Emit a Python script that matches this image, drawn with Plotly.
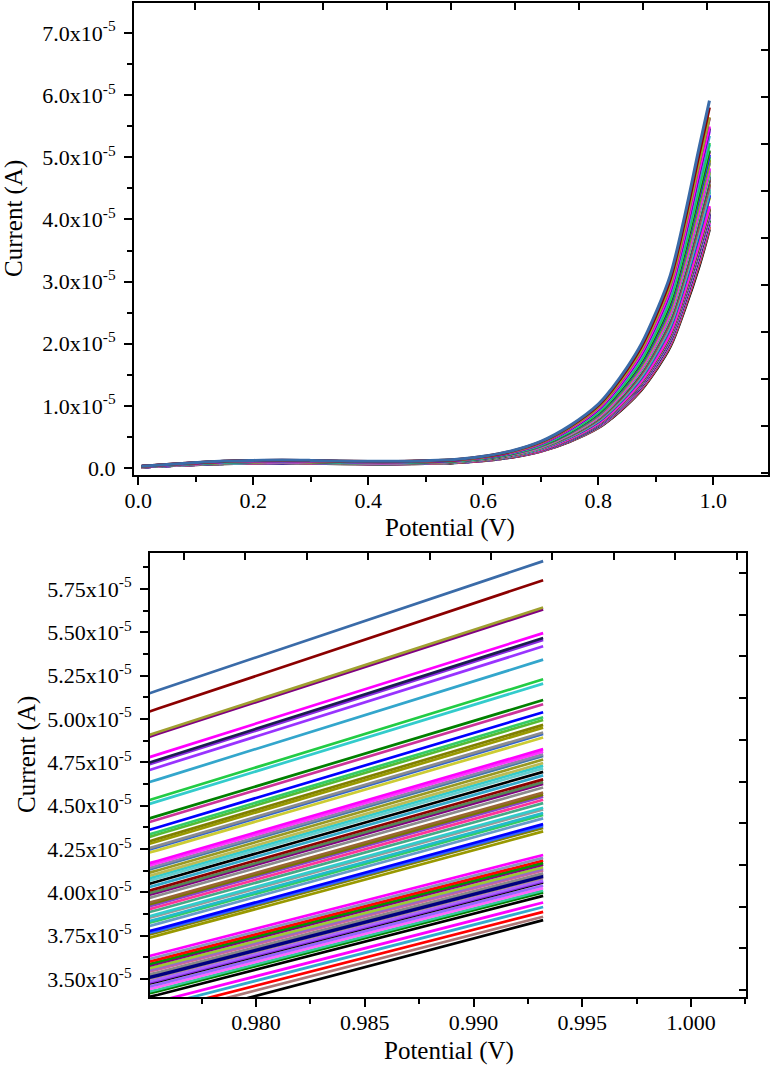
import plotly.graph_objects as go

# ---------------- data (currents in units of 1e-5 A) ----------------
# shape of the outermost (steel-blue) LSV curve
potential_base = [0.005, 0.05, 0.1, 0.15, 0.2, 0.25, 0.3, 0.35, 0.4, 0.45, 0.5, 0.55,
                  0.6, 0.65, 0.7, 0.75, 0.8, 0.825, 0.85, 0.875, 0.9, 0.925, 0.95, 0.9755]
current_base = [0.03, 0.06, 0.09, 0.115, 0.125, 0.13, 0.125, 0.115, 0.11, 0.11, 0.12, 0.14,
                0.19, 0.28, 0.43, 0.68, 1.03, 1.3, 1.62, 2.0, 2.5, 3.1, 4.05, 5.166]

end_potential = 0.9932

# current of every curve at 0.9755 V (left edge of the zoom) and at 0.9932 V (end)
start_current = [5.166, 5.060, 4.925, 4.915, 4.796, 4.765, 4.755, 4.722, 4.652, 4.549,
                 4.526, 4.440, 4.418, 4.376, 4.350, 4.335, 4.310, 4.295, 4.270, 4.262,
                 4.244, 4.183, 4.170, 4.155, 4.147, 4.128, 4.110, 4.096, 4.082, 4.064,
                 4.045, 4.025, 4.010, 4.000, 3.982, 3.955, 3.945, 3.934, 3.917, 3.900,
                 3.876, 3.867, 3.848, 3.838, 3.820, 3.790, 3.780, 3.770, 3.752,
                 3.646, 3.629, 3.614, 3.600, 3.590, 3.575, 3.565, 3.556, 3.540, 3.530,
                 3.520, 3.514, 3.500, 3.493, 3.487, 3.470, 3.455, 3.440, 3.430, 3.410,
                 3.372, 3.346, 3.318, 3.290, 3.255]
end_current = [5.910, 5.800, 5.643, 5.632, 5.495, 5.467, 5.456, 5.419, 5.342, 5.229,
               5.204, 5.109, 5.085, 5.039, 5.010, 4.994, 4.966, 4.950, 4.922, 4.913,
               4.893, 4.826, 4.812, 4.796, 4.787, 4.766, 4.746, 4.731, 4.715, 4.695,
               4.675, 4.652, 4.636, 4.625, 4.605, 4.576, 4.564, 4.552, 4.534, 4.515,
               4.488, 4.479, 4.458, 4.447, 4.427, 4.394, 4.383, 4.372, 4.352,
               4.216, 4.199, 4.184, 4.170, 4.160, 4.145, 4.135, 4.126, 4.110, 4.100,
               4.090, 4.084, 4.070, 4.063, 4.057, 4.040, 4.025, 4.010, 4.000, 3.980,
               3.942, 3.916, 3.888, 3.860, 3.840]
colors = ['#3A6BA8', '#8B0000', '#A0A030', '#800080', '#FF00FF', '#1C1C50', '#8A2BE2', '#9933FF',
          '#33A6CC', '#22CC44', '#33CCCC', '#008000', '#CC3399', '#0000FF', '#33CC66', '#55BB33',
          '#808000', '#999900', '#8C8C8C', '#3366CC', '#CCCC33', '#FF00FF', '#FF33FF', '#8888AA',
          '#4477AA', '#999922', '#BBBB55', '#33CCCC', '#66CCCC', '#000000', '#33AACC', '#8B0000',
          '#558855', '#800080', '#8C8C8C', '#996633', '#777700', '#8844CC', '#FF3399', '#44AA88',
          '#33CCCC', '#999999', '#22BBCC', '#33CC66', '#6699CC', '#0000FF', '#3366FF', '#808000',
          '#999900',
          '#FF00FF', '#8899BB', '#FF0000', '#009900', '#800080', '#99CC33', '#9966CC', '#CC6699',
          '#888888', '#000080', '#000080', '#AA8888', '#AA66FF', '#8A2BE2', '#000000', '#9966FF',
          '#FF66FF', '#33CC99', '#008000', '#000000', '#FF00FF', '#33AACC', '#FF0000', '#AA7777',
          '#000000']

top_ytick_vals = [0, 1, 2, 3, 4, 5, 6, 7]
top_ytick_text = ['0.0', '1.0x10<sup>-5</sup>', '2.0x10<sup>-5</sup>', '3.0x10<sup>-5</sup>',
                  '4.0x10<sup>-5</sup>', '5.0x10<sup>-5</sup>', '6.0x10<sup>-5</sup>',
                  '7.0x10<sup>-5</sup>']
bot_ytick_vals = [3.50, 3.75, 4.00, 4.25, 4.50, 4.75, 5.00, 5.25, 5.50, 5.75]
bot_ytick_text = ['3.50x10<sup>-5</sup>', '3.75x10<sup>-5</sup>', '4.00x10<sup>-5</sup>',
                  '4.25x10<sup>-5</sup>', '4.50x10<sup>-5</sup>', '4.75x10<sup>-5</sup>',
                  '5.00x10<sup>-5</sup>', '5.25x10<sup>-5</sup>', '5.50x10<sup>-5</sup>',
                  '5.75x10<sup>-5</sup>']

# ---------------- figure ----------------
W, H = 774, 1067
FONT = 'Liberation Serif'
fig = go.Figure()

for i in reversed(range(len(start_current))):
    scale = start_current[i] / current_base[-1]
    xs = potential_base + [end_potential]
    ys = [c * scale * 1e-5 for c in current_base] + [end_current[i] * 1e-5]
    fig.add_trace(go.Scatter(x=xs, y=ys, mode='lines', xaxis='x', yaxis='y',
                             line=dict(color=colors[i], width=3, shape='spline', smoothing=1.0),
                             showlegend=False, hoverinfo='skip'))
    fig.add_trace(go.Scatter(x=xs, y=ys, mode='lines', xaxis='x2', yaxis='y2',
                             line=dict(color=colors[i], width=2.7),
                             showlegend=False, hoverinfo='skip'))

# dummy traces so the decorative top/right tick axes are drawn
fig.add_trace(go.Scatter(x=[None], y=[None], xaxis='x3', yaxis='y3', showlegend=False,
                         hoverinfo='skip'))
fig.add_trace(go.Scatter(x=[None], y=[None], xaxis='x4', yaxis='y4', showlegend=False,
                         hoverinfo='skip'))


def px_x(p):
    return p / W


def px_y(p):
    return 1 - p / H


tickfont = dict(family=FONT, size=22, color='black')
common = dict(showgrid=False, zeroline=False, showline=True, linecolor='black', linewidth=2,
              mirror=True, ticks='outside', tickwidth=2, ticklen=8, tickcolor='black',
              tickfont=tickfont, automargin=False)
deco = dict(showgrid=False, zeroline=False, showline=False, showticklabels=False,
            ticks='inside', ticklen=7, tickwidth=2, tickcolor='black', tickmode='linear',
            automargin=False)

top_x0, top_x1, top_y0, top_y1 = 134, 768, 3, 475
bot_x0, bot_x1, bot_y0, bot_y1 = 150, 746, 553, 997

minor_style = dict(ticks='outside', ticklen=5, tickwidth=2, tickcolor='black', tickmode='linear')

fig.update_layout(
    width=W, height=H, margin=dict(l=0, r=0, t=0, b=0, pad=0),
    paper_bgcolor='white', plot_bgcolor='white', showlegend=False,
    xaxis=dict(domain=[px_x(top_x0), px_x(top_x1)], anchor='y', range=[-0.0075, 1.095],
               tickmode='linear', tick0=0, dtick=0.2, tickformat='.1f', ticklabelstandoff=-3,
               minor=dict(tick0=0, dtick=0.1, **minor_style), **common),
    yaxis=dict(domain=[px_y(top_y1), px_y(top_y0)], anchor='x', range=[-0.11e-5, 7.48e-5],
               tickmode='array', tickvals=[v * 1e-5 for v in top_ytick_vals],
               ticktext=top_ytick_text, ticklabelstandoff=4,
               minor=dict(tick0=0, dtick=0.5e-5, **minor_style), **common),
    xaxis2=dict(domain=[px_x(bot_x0), px_x(bot_x1)], anchor='y2', range=[0.97512, 1.00253],
                tickmode='linear', tick0=0.98, dtick=0.005, tickformat='.3f',
                ticklabelstandoff=-3,
                minor=dict(tick0=0.98, dtick=0.0025, **minor_style), **common),
    yaxis2=dict(domain=[px_y(bot_y1), px_y(bot_y0)], anchor='x2', range=[3.397e-5, 5.957e-5],
                tickmode='array', tickvals=[v * 1e-5 for v in bot_ytick_vals],
                ticktext=bot_ytick_text, ticklabelstandoff=4,
                minor=dict(tick0=3.5e-5, dtick=0.125e-5, **minor_style), **common),
    xaxis3=dict(overlaying='x', side='top', anchor='y', range=[top_x0, top_x1],
                tick0=195, dtick=64, **deco),
    yaxis3=dict(overlaying='y', side='right', anchor='x', range=[top_y1, top_y0],
                tick0=50, dtick=47, **deco),
    xaxis4=dict(overlaying='x2', side='top', anchor='y2', range=[bot_x0, bot_x1],
                tick0=184, dtick=61.4, **deco),
    yaxis4=dict(overlaying='y2', side='right', anchor='x2', range=[bot_y1, bot_y0],
                tick0=573, dtick=41.7, **deco),
)

title_font = dict(family=FONT, size=25, color='black')
annotations = [
    dict(text='Current (A)', x=px_x(14), y=px_y(219), textangle=-90),
    dict(text='Potential (V)', x=px_x(450), y=px_y(528), textangle=0),
    dict(text='Current (A)', x=px_x(27), y=px_y(755), textangle=-90),
    dict(text='Potential (V)', x=px_x(449), y=px_y(1051), textangle=0),
]
for a in annotations:
    fig.add_annotation(xref='paper', yref='paper', xanchor='center', yanchor='middle',
                       showarrow=False, font=title_font, **a)

fig.write_html('out.html', config={'displayModeBar': False},
               post_script="document.body.style.margin='0px';document.body.style.overflow='hidden';")
